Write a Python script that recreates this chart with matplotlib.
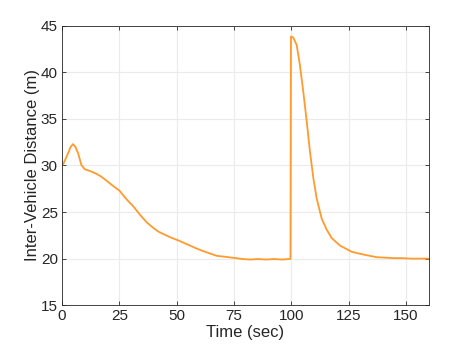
import numpy as np
import matplotlib
matplotlib.use("Agg")
import matplotlib.pyplot as plt

# values
time = [0, 0.6, 1.5, 2.6, 3.7, 4.8, 5.8, 7.0, 7.8, 8.4, 9.9, 12.8, 15, 17.1, 19.5, 22, 25, 28,
        31.1, 34, 36.9, 39.5, 42, 44.5, 47.1, 50.7, 53, 55.8, 58.5, 61.6, 64.5, 67.4, 71,
        75.9, 79, 82, 85.5, 89, 92.5, 96, 99.6, 99.8, 100.8, 102.3, 103.7, 105.2, 106.7,
        108.1, 109.6, 111.0, 113.2, 115.4, 117.6, 121.2, 126.3, 132.1, 137.2, 141, 144.5,
        148, 152, 156, 160]
distance = [30.0, 30.2, 30.7, 31.3, 32.0, 32.3, 32.0, 31.3, 30.6, 30.05, 29.6, 29.35, 29.1,
            28.8, 28.35, 27.85, 27.3, 26.4, 25.6, 24.7, 23.9, 23.35, 22.9, 22.6, 22.3, 21.95,
            21.7, 21.4, 21.1, 20.8, 20.55, 20.3, 20.2, 20.05, 19.95, 19.9, 19.95, 19.9, 19.95,
            19.9, 19.97, 43.85, 43.75, 42.96, 40.8, 37.9, 34.7, 31.5, 28.6, 26.5, 24.3, 23.1,
            22.2, 21.4, 20.73, 20.4, 20.15, 20.1, 20.05, 20.05, 20.0, 20.0, 20.0]

xticks = [0, 25, 50, 75, 100, 125, 150]
yticks = [15, 20, 25, 30, 35, 40, 45]

plt.rcParams["font.family"] = ["Liberation Sans", "DejaVu Sans"]

fig = plt.figure(figsize=(4.74, 3.54), dpi=100)
ax = fig.add_axes([0.131, 0.138, 0.774, 0.789])

ax.plot(time, distance, color="#ff9a2e", linewidth=1.3)

ax.set_xlim(0, 160)
ax.set_ylim(15, 45)
ax.set_xticks(xticks)
ax.set_yticks(yticks)
ax.grid(True, color="#ebebeb", linewidth=0.8)
ax.set_axisbelow(True)
ax.tick_params(direction="in", length=3, width=0.6, colors="#262626", labelsize=11,
               top=True, right=True, pad=3)
for s in ax.spines.values():
    s.set_color("#262626")
    s.set_linewidth(0.6)

ax.set_xlabel("Time (sec)", fontsize=12, color="#262626", labelpad=1)
ax.set_ylabel("Inter-Vehicle Distance (m)", fontsize=12, color="#262626", labelpad=1)

fig.savefig("out.png", dpi=100)
